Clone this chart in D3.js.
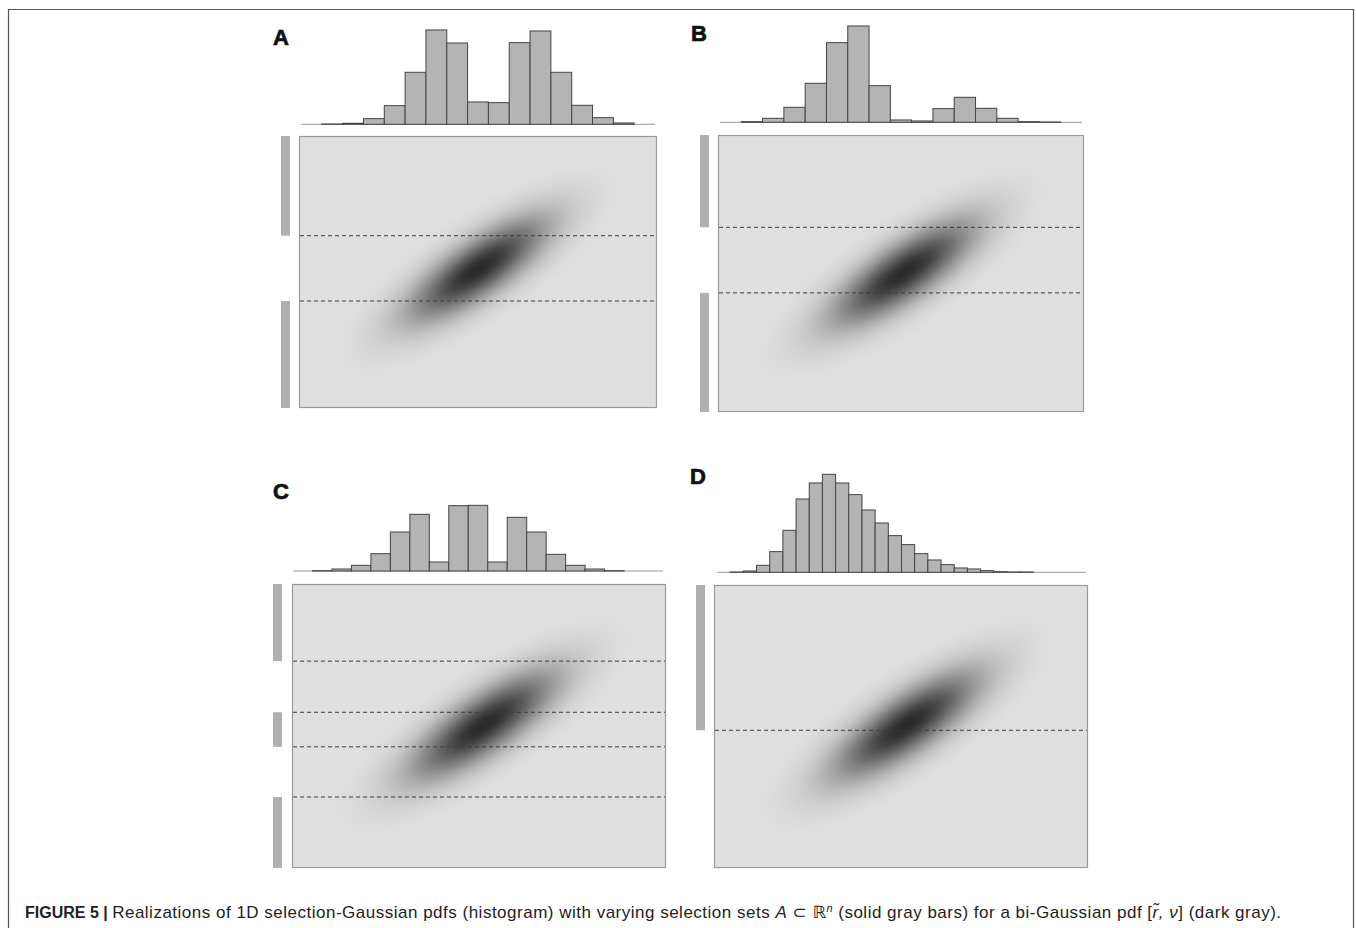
<!DOCTYPE html>
<html>
<head>
<meta charset="utf-8">
<script src="https://cdn.jsdelivr.net/npm/d3@7"></script>
<style>
  body { margin: 0; background: #fff; }
  svg { display: block; font-family: 'Liberation Sans', Arial, 'DejaVu Sans', sans-serif; }
</style>
</head>
<body>
<div id="chart"></div>
<script>
const panelNames = ['A', 'B', 'C', 'D']

// counts per bin of the top marginal histograms
const histA = [0, 1, 3, 17, 56, 156, 283, 244, 67, 65, 245, 280, 156, 57, 20, 4, 0]
const histB = [0, 2, 12, 45, 117, 239, 289, 110, 7, 4, 41, 75, 42, 12, 2, 1, 0]
const histC = [0, 1, 6, 17, 52, 117, 170, 27, 196, 197, 27, 161, 117, 50, 17, 6, 1, 0, 0]
const histD = [0, 1, 4, 21, 62, 126, 220, 268, 294, 268, 233, 187, 148, 110, 83, 56, 37, 23, 13, 10, 5, 2, 1, 1, 0, 0, 0, 0]

// selection sets A on the vertical axis (heatmap units, -3..3)
const selA = [[0.8, 3], [-3, -0.64]]
const selB = [[1.0, 3], [-3, -0.42]]
const selC = [[1.37, 3], [-0.44, 0.29], [-3, -1.5]]
const selD = [[-0.08, 3]]

// bi-Gaussian pdf: mean x, mean y, sd x, sd y, correlation
const gaussA = [0, 0.06, 1.05, 0.77, 0.79]
const gaussB = [0.05, 0, 1.05, 0.77, 0.79]
const gaussC = [0.1, 0.02, 1.05, 0.77, 0.79]
const gaussD = [0.12, 0.02, 1.05, 0.77, 0.79]

const xDomain = [-4, 4]
const yDomain = [-3, 3]

// page layout of the four panels
const layout = [
  { rect: [299, 136, 657, 408], base: 124.3, hist: [301, 655], bar: 281, label: [273, 45] },
  { rect: [718, 135, 1084, 412], base: 122.3, hist: [720, 1082], bar: 700, label: [691, 41] },
  { rect: [292, 584, 666, 868], base: 571, hist: [293, 663], bar: 273, label: [273, 499] },
  { rect: [714, 585, 1088, 868], base: 572.3, hist: [717, 1086], bar: 696, label: [690, 484] }
]

const hists = [histA, histB, histC, histD]
const sels = [selA, selB, selC, selD]
const gausses = [gaussA, gaussB, gaussC, gaussD]

const width = 1356
const height = 928

const svg = d3.select('#chart')
  .append('svg')
  .attr('width', width)
  .attr('height', height)

// figure frame
svg.append('path')
  .attr('d', 'M8.5,935V9.5H1353.5V935')
  .attr('fill', 'none')
  .attr('stroke', '#555')
  .attr('stroke-width', 1.2)

const countScale = d3.scaleLinear().domain([0, 300]).range([0, 100])
const shade = d3.scaleLinear().domain([0, 1]).range(['#e0e0e0', '#2a2a2a'])

panelNames.forEach((name, p) => {
  const L = layout[p]
  const [x0, y0, x1, y1] = L.rect
  const g = svg.append('g').classed('panel', true)

  const x = d3.scaleLinear().domain(xDomain).range([x0, x1])
  const y = d3.scaleLinear().domain(yDomain).range([y1, y0])

  // heatmap of the bi-Gaussian pdf
  const [mx, my, sx, sy, rho] = gausses[p]
  const cell = 2
  const nx = Math.round((x1 - x0) / cell)
  const ny = Math.round((y1 - y0) / cell)
  const canvas = document.createElement('canvas')
  canvas.width = nx
  canvas.height = ny
  const ctx = canvas.getContext('2d')
  const img = ctx.createImageData(nx, ny)
  for (let j = 0; j < ny; j++) {
    for (let i = 0; i < nx; i++) {
      const u = (x.invert(x0 + (i + 0.5) * cell) - mx) / sx
      const v = (y.invert(y0 + (j + 0.5) * cell) - my) / sy
      const q = (u * u - 2 * rho * u * v + v * v) / (1 - rho * rho)
      const c = d3.rgb(shade(Math.exp(-q / 2)))
      const k = (j * nx + i) * 4
      img.data[k] = c.r
      img.data[k + 1] = c.g
      img.data[k + 2] = c.b
      img.data[k + 3] = 255
    }
  }
  ctx.putImageData(img, 0, 0)

  g.append('image')
    .attr('x', x0)
    .attr('y', y0)
    .attr('width', x1 - x0)
    .attr('height', y1 - y0)
    .attr('preserveAspectRatio', 'none')
    .attr('href', canvas.toDataURL())

  g.append('rect')
    .attr('x', x0 + 0.5)
    .attr('y', y0 + 0.5)
    .attr('width', x1 - x0 - 1)
    .attr('height', y1 - y0 - 1)
    .attr('fill', 'none')
    .attr('stroke', '#9a9a9a')
    .attr('stroke-width', 1.2)

  // selection set bars and their boundaries
  const sel = sels[p]
  g.append('g')
    .selectAll('rect')
    .data(sel)
    .enter()
    .append('rect')
    .attr('x', L.bar)
    .attr('width', 9)
    .attr('y', d => y(d[1]))
    .attr('height', d => y(d[0]) - y(d[1]))
    .attr('fill', '#b0b0b0')

  const edges = sel.flat().filter(v => v > yDomain[0] && v < yDomain[1])
  g.append('g')
    .selectAll('line')
    .data(edges)
    .enter()
    .append('line')
    .attr('x1', x0 + 1)
    .attr('x2', x1 - 1)
    .attr('y1', d => y(d))
    .attr('y2', d => y(d))
    .attr('stroke', '#3c3c3c')
    .attr('stroke-width', 1)
    .attr('stroke-dasharray', '4,3')

  // marginal histogram on top
  const counts = hists[p]
  const hx = d3.scaleLinear().domain([0, counts.length]).range(L.hist)
  g.append('line')
    .attr('x1', L.hist[0])
    .attr('x2', L.hist[1])
    .attr('y1', L.base)
    .attr('y2', L.base)
    .attr('stroke', '#9a9a9a')
    .attr('stroke-width', 1)

  g.append('g')
    .selectAll('rect')
    .data(counts)
    .enter()
    .append('rect')
    .attr('x', (d, i) => hx(i))
    .attr('width', (d, i) => hx(i + 1) - hx(i))
    .attr('y', d => L.base - countScale(d))
    .attr('height', d => countScale(d))
    .attr('fill', '#b4b4b4')
    .attr('stroke', '#444')
    .attr('stroke-width', 1)

  g.append('text')
    .attr('x', L.label[0])
    .attr('y', L.label[1])
    .attr('font-size', 22)
    .attr('font-weight', 'bold')
    .attr('fill', '#111')
    .attr('stroke', '#111')
    .attr('stroke-width', 0.7)
    .text(name)
})

// caption
const cap = svg.append('text')
  .attr('x', 25)
  .attr('y', 918)
  .attr('font-size', 17)
  .attr('fill', '#222')
cap.append('tspan').attr('font-weight', 'bold').attr('font-size', 16).text('FIGURE 5 | ')
const body = cap.append('tspan').attr('letter-spacing', 0.5)
body.append('tspan').text('Realizations of 1D selection-Gaussian pdfs (histogram) with varying selection sets ')
body.append('tspan').attr('font-style', 'italic').text('A')
body.append('tspan').text(' \u2282 \u211D')
body.append('tspan').attr('font-style', 'italic').attr('font-size', 11).attr('dy', -6).text('n')
body.append('tspan').attr('dy', 6).text(' (solid gray bars) for a bi-Gaussian pdf [')
body.append('tspan').attr('font-style', 'italic').text('r\u0303, \u03BD')
body.append('tspan').text('] (dark gray).')
</script>
</body>
</html>
